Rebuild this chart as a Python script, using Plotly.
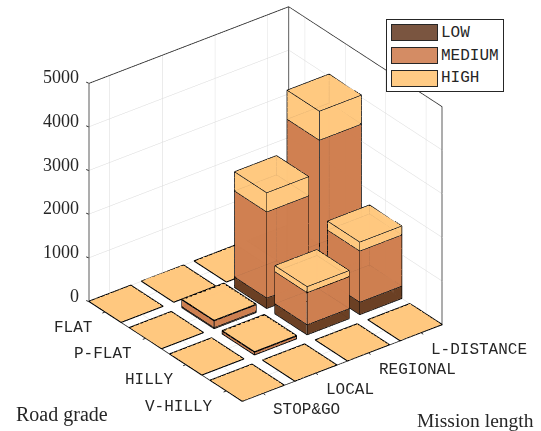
import math
import plotly.graph_objects as go

missions = ["STOP&GO", "LOCAL", "REGIONAL", "L-DISTANCE"]
roads = ["FLAT", "P-FLAT", "HILLY", "V-HILLY"]
z_ticks = [0, 1000, 2000, 3000, 4000, 5000]

# rows follow roads, columns follow missions
low = [[3, 3, 3, 3],
       [3, 25, 240, 260],
       [3, 5, 230, 285],
       [3, 3, 3, 3]]
medium = [[3, 3, 3, 3],
          [3, 150, 1970, 3130],
          [3, 55, 735, 1170],
          [3, 3, 3, 3]]
high = [[3, 3, 3, 3],
        [3, 20, 440, 665],
        [3, 20, 138, 206],
        [3, 3, 3, 3]]
series = [("LOW", low, "#6a3e22"), ("MEDIUM", medium, "#cf7f50"), ("HIGH", high, "#ffc87f")]
legend_fill = ["#7a5540", "#d48c64", "#ffcb85"]

HALF = 0.4
XR = [0.6, 4.4]
YR = [0.6, 4.4]
ZR = [0, 5000]
INK = "#262626"
EYE_DIST = 2.0
CUBE = 1.236

az = math.radians(37.5)
el = math.radians(30)
eye = dict(x=-EYE_DIST * math.cos(el) * math.sin(az),
           y=-EYE_DIST * math.cos(el) * math.cos(az),
           z=EYE_DIST * math.sin(el))

fig = go.Figure()
ex, ey, ez = [], [], []
# cells painted back to front so that the translucent faces blend in the right order
cells = sorted(((r, m) for r in range(len(roads)) for m in range(len(missions))),
               key=lambda c: -((c[1] + 1) * math.sin(az) + (len(roads) - c[0]) * math.cos(az)))
for r, m in cells:
    cx, cy = m + 1, len(roads) - r
    z1 = 0.0
    for name, values, color in series:
        z0, z1 = z1, z1 + values[r][m]
        xs, ys, zs = [], [], []
        for z in (z0, z1):
            for dx, dy in ((-1, -1), (1, -1), (1, 1), (-1, 1)):
                xs.append(cx + dx * HALF); ys.append(cy + dy * HALF); zs.append(z)
        tris = ((0,1,2),(0,2,3),(4,5,6),(4,6,7),(0,1,5),(0,5,4),
                (1,2,6),(1,6,5),(2,3,7),(2,7,6),(3,0,4),(3,4,7))
        fig.add_trace(go.Mesh3d(x=xs, y=ys, z=zs, i=[t[0] for t in tris], j=[t[1] for t in tris],
                                k=[t[2] for t in tris], color=color, opacity=0.92,
                                flatshading=True, name=name, hoverinfo="skip",
                                lighting=dict(ambient=1, diffuse=0, specular=0, fresnel=0, roughness=1)))
        for a, b in ((0,1),(1,2),(2,3),(3,0),(4,5),(5,6),(6,7),(7,4),(0,4),(1,5),(2,6),(3,7)):
            ex += [xs[a], xs[b], None]
            ey += [ys[a], ys[b], None]
            ez += [zs[a], zs[b], None]

fig.add_trace(go.Scatter3d(x=ex, y=ey, z=ez, mode="lines", line=dict(color="#000000", width=1.6),
                           showlegend=False, hoverinfo="skip"))

# axis box, inset a hair so that the scene's clipping leaves the lines whole
EPS_XY, EPS_Z = 0.003, 3
x0, x1 = XR[0] + EPS_XY, XR[1] - EPS_XY
y0, y1 = YR[0] + EPS_XY, YR[1] - EPS_XY
z0b, z1b = ZR[0], ZR[1] - EPS_Z
bx = [x0, x0, None, x0, x1, x1, x1, None, x1, x1, None, x0, x0, x1]
by = [y1, y1, None, y1, y1, y0, y0, None, y1, y1, None, y1, y0, y0]
bz = [z0b, z1b, None, z1b, z1b, z1b, z0b, None, z0b, z1b, None, z0b, z0b, z0b]
fig.add_trace(go.Scatter3d(x=bx, y=by, z=bz, mode="lines", line=dict(color=INK, width=1.6),
                           showlegend=False, hoverinfo="skip"))

def axis(rng, ticks):
    return dict(range=rng, autorange=False, tickmode="array", tickvals=ticks, showticklabels=False,
                title=dict(text=""), showgrid=True, gridcolor="#d8d8d8", gridwidth=1, zeroline=False,
                showline=False, showbackground=False, ticks="", showspikes=False)

serif = "Liberation Serif"
mono = "Liberation Mono"
scene_notes = []

def tick(x, y, z, ax, ay):
    scene_notes.append(dict(x=x, y=y, z=z, text=" ", showarrow=True, arrowhead=0, arrowwidth=1, arrowcolor=INK,
                            ax=ax, ay=ay, standoff=0, startstandoff=0, font=dict(size=1)))

for t in z_ticks:
    tick(XR[0], YR[1], t, -4, -1.6)
    scene_notes.append(dict(x=XR[0], y=YR[1], z=t, text=str(t), showarrow=False, xanchor="right",
                            yanchor="middle", xshift=-8, yshift=6, font=dict(family=serif, size=18, color=INK)))
for r, name in enumerate(roads):
    tick(XR[0], len(roads) - r, 0, -4, 1.6)
    scene_notes.append(dict(x=XR[0], y=len(roads) - r, z=0, text=name, showarrow=False, xanchor="right",
                            yanchor="middle", xshift=-11, yshift=-15.5, font=dict(family=mono, size=16, color=INK)))
for m, name in enumerate(missions):
    tick(m + 1, YR[0], 0, 3.5, 2.3)
    scene_notes.append(dict(x=m + 1, y=YR[0], z=0, text=name, showarrow=False, xanchor="left",
                            yanchor="middle", xshift=8, yshift=-17, font=dict(family=mono, size=16, color=INK)))

W, H = 541, 431
def px(x): return x / W
def py(y): return 1 - y / H

notes = [
    dict(x=px(14), y=py(414), text="Road grade", xanchor="left", font=dict(family=serif, size=20, color=INK)),
    dict(x=px(415), y=py(420), text="Mission length", xanchor="left", font=dict(family=serif, size=19.5, color=INK)),
    dict(x=px(445), y=py(55.3), text=" ", width=116, height=71, bgcolor="white", bordercolor=INK, borderwidth=1,
         borderpad=0, xanchor="center", font=dict(size=4)),
]
for idx, (name, _, _) in enumerate(series):
    yc = 33 + idx * 22.7
    notes.append(dict(x=px(414), y=py(yc), text=" ", width=45, height=15, bgcolor=legend_fill[idx], bordercolor=INK,
                      borderwidth=1, borderpad=0, xanchor="center", font=dict(size=4)))
    notes.append(dict(x=px(438.5), y=py(yc), text=name, xanchor="left", font=dict(family=mono, size=16, color=INK)))
for n in notes:
    n.update(xref="paper", yref="paper", yanchor="middle", showarrow=False)

fig.update_layout(
    width=W, height=H, autosize=False, margin=dict(l=0, r=0, t=0, b=0),
    paper_bgcolor="white", showlegend=False, annotations=notes,
    scene=dict(
        domain=dict(x=[0, 531 / W], y=[23 / H, 1]),
        aspectmode="manual", aspectratio=dict(x=CUBE, y=CUBE, z=CUBE),
        xaxis=axis(XR, [1, 2, 3, 4]), yaxis=axis(YR, [1, 2, 3, 4]), zaxis=axis(ZR, z_ticks),
        camera=dict(eye=eye, up=dict(x=0, y=0, z=1), center=dict(x=0, y=0, z=0),
                    projection=dict(type="orthographic")),
        annotations=scene_notes, bgcolor="rgba(0,0,0,0)",
    ),
)
fig.write_html("out.html", config=dict(displayModeBar=False),
               post_script="document.body.style.margin='0';document.body.style.overflow='hidden';")
